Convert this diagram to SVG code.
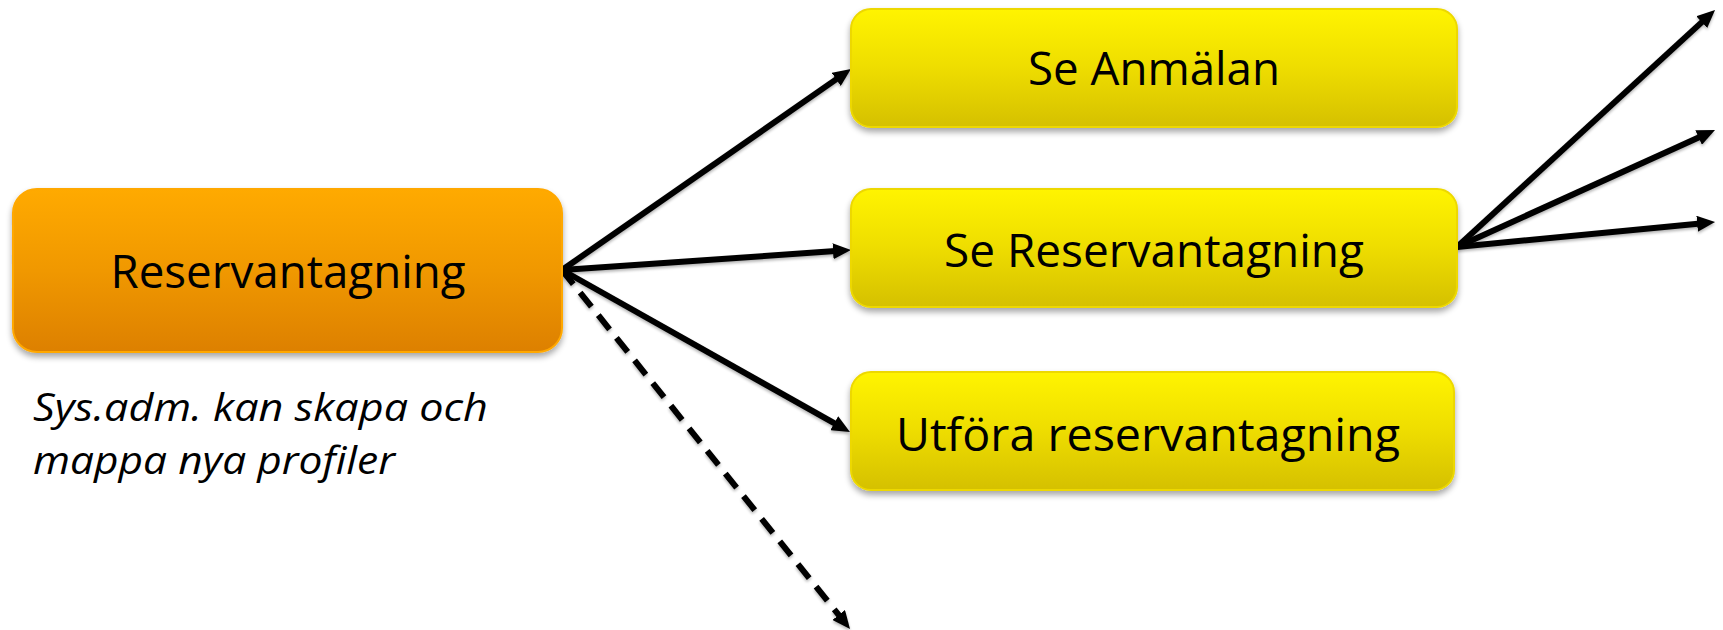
<svg xmlns="http://www.w3.org/2000/svg" width="1723" height="630" viewBox="0 0 1723 630">
  <style>
    .lbl { font-family: "Open Sans", "Liberation Sans", sans-serif; font-size: 46px; fill: #000; text-anchor: middle; }
    .note { font-family: "Open Sans", "Liberation Sans", sans-serif; font-size: 39px; font-style: italic; fill: #000; }
    .conn { fill: none; stroke: #000; stroke-width: 6; marker-end: url(#arrow); }
    .dash { stroke-dasharray: 18 11; }
    .yellow { fill: url(#gYellow); stroke: #EDD800; stroke-width: 2; filter: url(#shadow); }
    .orange { fill: url(#gOrange); stroke: #FFA800; stroke-width: 2; filter: url(#shadow); }
  </style>
  <defs>
    <linearGradient id="gYellow" x1="0" y1="0" x2="0" y2="1">
      <stop offset="0" stop-color="#FFF400"/>
      <stop offset="0.5" stop-color="#EEDD00"/>
      <stop offset="1" stop-color="#D5C000"/>
    </linearGradient>
    <linearGradient id="gOrange" x1="0" y1="0" x2="0" y2="1">
      <stop offset="0" stop-color="#FFAA00"/>
      <stop offset="0.5" stop-color="#F09800"/>
      <stop offset="1" stop-color="#DD8000"/>
    </linearGradient>
    <filter id="shadow" x="-10%" y="-10%" width="120%" height="130%">
      <feGaussianBlur in="SourceAlpha" stdDeviation="3"/>
      <feOffset dx="0" dy="4" result="b"/>
      <feComponentTransfer><feFuncA type="linear" slope="0.35"/></feComponentTransfer>
      <feMerge><feMergeNode/><feMergeNode in="SourceGraphic"/></feMerge>
    </filter>
    <filter id="lshadow" x="-10%" y="-10%" width="120%" height="120%">
      <feGaussianBlur in="SourceAlpha" stdDeviation="1.5"/>
      <feOffset dx="0" dy="2"/>
      <feComponentTransfer><feFuncA type="linear" slope="0.3"/></feComponentTransfer>
      <feMerge><feMergeNode/><feMergeNode in="SourceGraphic"/></feMerge>
    </filter>
    <marker id="arrow" markerUnits="userSpaceOnUse" markerWidth="18" markerHeight="16" refX="6" refY="8" orient="auto">
      <path d="M0,0 L18,8 L0,16 z" fill="#000"/>
    </marker>
  </defs>
  <rect width="1723" height="630" fill="#fff"/>

  <g id="connectors" filter="url(#lshadow)">
    <path class="conn" d="M562,270 L841.1,75.9"/>
    <path class="conn" d="M562,270 L839,250.8"/>
    <path class="conn" d="M562,270 L839.5,426.1"/>
    <path class="conn dash" d="M562,270 L842.5,619.6"/>
    <path class="conn" d="M1457,247 L1706.2,18.1"/>
    <path class="conn" d="M1457,247 L1704.1,135"/>
    <path class="conn" d="M1457,247 L1703.1,223.2"/>
  </g>

  <g id="node-reservantagning">
    <rect class="orange" x="13" y="189" width="549" height="163" rx="24"/>
    <text class="lbl" x="288" y="288" textLength="355" lengthAdjust="spacingAndGlyphs">Reservantagning</text>
  </g>
  <g id="note-sysadm">
    <text class="note" x="33" y="421" textLength="455" lengthAdjust="spacingAndGlyphs">Sys.adm. kan skapa och</text>
    <text class="note" x="33" y="474" textLength="362" lengthAdjust="spacingAndGlyphs">mappa nya profiler</text>
  </g>
  <g id="node-se-anmalan">
    <rect class="yellow" x="851" y="9" width="606" height="118" rx="20"/>
    <text class="lbl" x="1154" y="85" textLength="252" lengthAdjust="spacingAndGlyphs">Se Anmälan</text>
  </g>
  <g id="node-se-reservantagning">
    <rect class="yellow" x="851" y="189" width="606" height="118" rx="20"/>
    <text class="lbl" x="1154" y="267" textLength="420" lengthAdjust="spacingAndGlyphs">Se Reservantagning</text>
  </g>
  <g id="node-utfora">
    <rect class="yellow" x="851" y="372" width="603" height="118" rx="20"/>
    <text class="lbl" x="1148" y="451" textLength="504" lengthAdjust="spacingAndGlyphs">Utföra reservantagning</text>
  </g>
</svg>
